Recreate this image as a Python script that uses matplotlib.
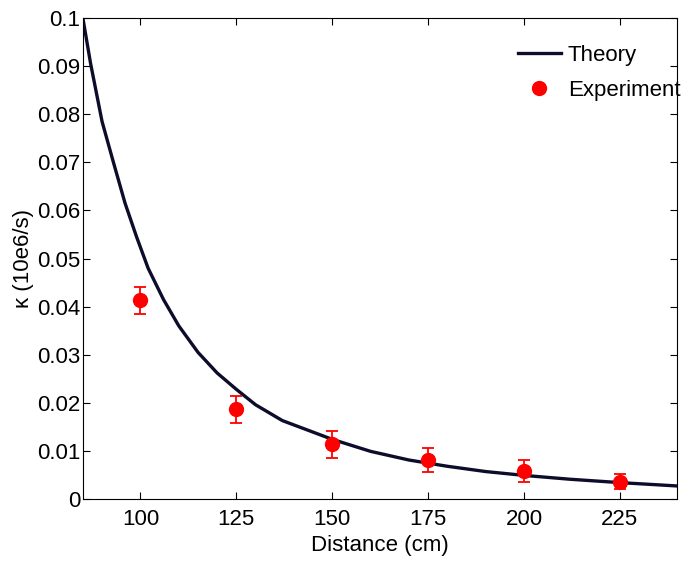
import matplotlib.pyplot as plt
from matplotlib.lines import Line2D
from matplotlib.ticker import FuncFormatter

# theory curve
theory_d = [85, 87, 90, 93, 96, 99, 102, 106, 110, 115, 120, 125, 130, 137,
            145, 150, 160, 170, 180, 190, 200, 212, 225, 240]
theory_k = [0.1, 0.0906, 0.0785, 0.0699, 0.0615, 0.0545, 0.0480, 0.0415, 0.0360,
            0.0305, 0.0262, 0.0228, 0.0196, 0.0163, 0.0139, 0.0124, 0.0099, 0.0081,
            0.0068, 0.0057, 0.0049, 0.0041, 0.0034, 0.0027]

# experimental points
exp_d = [100, 125, 150, 175, 200, 225]
exp_k = [0.0413, 0.0187, 0.0114, 0.0081, 0.0059, 0.0036]
exp_err = [0.0028, 0.0028, 0.0028, 0.0024, 0.0023, 0.0015]

plt.rcParams['font.family'] = ['Liberation Sans', 'DejaVu Sans']

fig = plt.figure(figsize=(6.85, 5.67), dpi=100)
ax = fig.add_axes([0.121, 0.12, 0.868, 0.848])

ax.plot(theory_d, theory_k, color='#0d0d2b', lw=2.4, solid_joinstyle='round',
        solid_capstyle='round')
ax.errorbar(exp_d, exp_k, yerr=exp_err, fmt='o', color='#ff0000', ms=10,
            ecolor='#ff0000', elinewidth=1.3, capsize=4.5, capthick=1.3)

ax.set_xlim(85, 240)
ax.set_ylim(0, 0.1)
ax.set_xticks([100, 125, 150, 175, 200, 225])
ax.set_yticks([i / 100 for i in range(11)])
ax.yaxis.set_major_formatter(FuncFormatter(lambda v, p: '%g' % round(v, 3)))
ax.tick_params(direction='in', top=True, right=True, length=5, labelsize=16)
ax.tick_params(axis='x', pad=7)
ax.tick_params(axis='y', pad=2)

ax.set_xlabel('Distance (cm)', fontsize=16, labelpad=4)
ax.set_ylabel('κ (10e6/s)', fontsize=16, labelpad=2)

# legend without the error bars on the marker
handles = [Line2D([], [], color='#0d0d2b', lw=2.4),
           Line2D([], [], color='#ff0000', marker='o', ms=10, ls='none')]
ax.legend(handles, ['Theory', 'Experiment'], loc='upper right', frameon=False,
          fontsize=16, handlelength=1.95, handletextpad=0.3, borderpad=0,
          borderaxespad=0, labelspacing=0.65, bbox_to_anchor=(1.005, 0.945))

fig.savefig('out.png', dpi=100)
